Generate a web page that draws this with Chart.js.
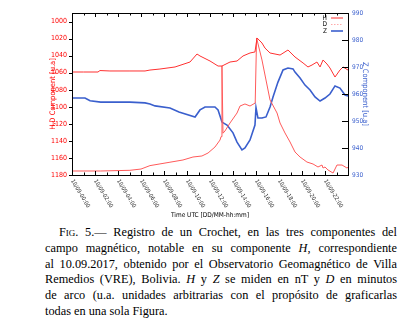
<!DOCTYPE html>
<html>
<head>
<meta charset="utf-8">
<script src="https://cdn.jsdelivr.net/npm/chart.js@4.4.0/dist/chart.umd.min.js"></script>
<style>
  body { margin: 0; background: #fff; width: 415px; height: 326px; overflow: hidden; }
  #wrap { position: absolute; left: 0; top: 0; width: 415px; height: 222px; }
  #caption {
    position: absolute; left: 45px; top: 225px; width: 352px;
    font-family: 'Liberation Serif', 'DejaVu Serif', serif;
    font-size: 12.3px; line-height: 15.8px; color: #000;
  }
  #caption div { text-align: justify; text-align-last: justify; }
  #caption div.first { padding-left: 14px; }
  #caption div.last { text-align-last: left; }
  .sc { font-variant: small-caps; }
</style>
</head>
<body>
<div id="wrap"><canvas id="crochetChart" width="415" height="222"></canvas></div>
<div id="caption">
  <div class="first"><span class="sc">Fig</span>. 5.— Registro de un Crochet, en las tres componentes del</div>
  <div>campo magnético, notable en su componente <i>H</i>, correspondiente</div>
  <div>al 10.09.2017, obtenido por el Observatorio Geomagnético de Villa</div>
  <div>Remedios (VRE), Bolivia. <i>H</i> y <i>Z</i> se miden en nT y <i>D</i> en minutos</div>
  <div>de arco (u.a. unidades arbitrarias con el propósito de graficarlas</div>
  <div class="last">todas en una sola Figura.</div>
</div>
<script>
// hours UTC on 10/09/2017
const hTime = [0, 1.0, 2.26, 2.43, 3.3, 5.04, 6.35, 6.78, 7.65, 8.96, 10.26, 10.87, 11.13, 12.0, 12.7, 13.04, 13.74, 14.35, 14.87, 15.48, 15.91, 16.09, 16.52, 16.78, 17.22, 18.09, 18.78, 19.39, 20.09, 20.52, 20.87, 21.3, 21.57, 21.83, 22.17, 22.43, 22.87, 23.3, 23.57, 24.0];
const hVal = [1059.2, 1059.2, 1059.2, 1057.5, 1058, 1058, 1058, 1056.9, 1055.7, 1053.3, 1047.5, 1038.1, 1040.4, 1046.3, 1052.2, 1052.2, 1047.5, 1046.3, 1040.4, 1036.9, 1035.7, 1019.3, 1025.2, 1031.1, 1036.9, 1039.3, 1033.4, 1041.6, 1048.6, 1053.3, 1051.0, 1047.5, 1053.3, 1045.1, 1049.8, 1054.5, 1065.1, 1056.9, 1053.3, 1056.9];

const dTime = [0, 2.5, 5.04, 6.0, 6.78, 7.65, 8.52, 9.65, 10.52, 11.3, 11.83, 12.43, 12.87, 12.96, 13.04, 13.13, 13.3, 13.74, 14.35, 14.61, 15.04, 15.48, 15.93, 16.05, 16.52, 16.87, 17.22, 17.83, 18.09, 18.52, 18.96, 19.39, 19.83, 20.43, 20.96, 21.39, 21.74, 21.83, 22.0, 22.26, 22.7, 23.04, 23.48, 23.91, 24.0];
const dVal = [1175.3, 1175.3, 1174.5, 1173.0, 1169.0, 1167.0, 1165.0, 1162.4, 1158.9, 1157.7, 1154.2, 1147.2, 1139.0, 1135.0, 1052.0, 1131.0, 1128.4, 1119.0, 1107.3, 1099.1, 1096.7, 1099.1, 1095.6, 1019.3, 1045.1, 1068.6, 1092.0, 1107.3, 1119.0, 1130.7, 1141.3, 1153.0, 1158.9, 1164.8, 1167.1, 1170.6, 1168.3, 1171.8, 1170.6, 1174.1, 1177.7, 1168.3, 1168.3, 1171.8, 1171.0];

const zTime = [0, 1.13, 1.57, 2.5, 4.0, 5.04, 6.35, 6.78, 7.22, 8.52, 9.3, 10.7, 11.13, 11.57, 12.43, 12.7, 13.04, 13.48, 14.0, 14.35, 14.78, 15.04, 15.48, 15.91, 16.0, 16.17, 16.52, 16.87, 17.22, 17.48, 17.91, 18.35, 18.78, 19.22, 19.39, 19.83, 20.26, 20.7, 21.13, 21.57, 22.0, 22.43, 22.87, 23.3, 23.74, 24.0];
const zVal = [958.5, 958.5, 957.5, 957.0, 957.0, 957.0, 956.7, 956.3, 955.6, 954.8, 953.3, 951.5, 954.1, 955.2, 955.2, 954.1, 949.6, 948.5, 945.6, 942.2, 939.3, 940.0, 943.0, 948.5, 955.0, 951.1, 951.1, 951.5, 955.2, 958.9, 964.4, 968.9, 969.6, 969.3, 968.1, 965.9, 963.3, 961.5, 958.9, 957.4, 958.5, 960.0, 963.0, 962.2, 959.6, 959.3];

const hdTicks = [1000, 1020, 1040, 1060, 1080, 1100, 1120, 1140, 1160, 1180];
const zTicks = [930, 940, 950, 960, 970, 980, 990];
const xTickHours = [0, 2, 4, 6, 8, 10, 12, 14, 16, 18, 20, 22];
const xTickLabels = ['10/09-00:00', '10/09-02:00', '10/09-04:00', '10/09-06:00', '10/09-08:00', '10/09-10:00',
  '10/09-12:00', '10/09-14:00', '10/09-16:00', '10/09-18:00', '10/09-20:00', '10/09-22:00'];

const narrow = "'Liberation Sans Narrow', 'DejaVu Sans Condensed', 'Liberation Sans', sans-serif";

function pts(t, v) {
  return t.map((x, i) => ({ x: x, y: v[i] }));
}

// box, inward ticks, rotated time labels and key, gnuplot style
const gnuplotFrame = {
  id: 'gnuplotFrame',
  afterDraw(chart) {
    const { ctx, chartArea: a, scales } = chart;
    ctx.save();
    ctx.strokeStyle = '#000';
    ctx.lineWidth = 1;
    ctx.strokeRect(a.left + 0.5, a.top + 0.5, a.right - a.left, a.bottom - a.top);

    ctx.beginPath();
    for (let h = 0; h <= 24; h++) {
      const x = Math.round(scales.x.getPixelForValue(h)) + 0.5;
      const len = h % 2 === 0 ? 4 : 2.5;
      ctx.moveTo(x, a.top); ctx.lineTo(x, a.top + len);
      ctx.moveTo(x, a.bottom); ctx.lineTo(x, a.bottom - len);
    }
    hdTicks.forEach(v => {
      const y = Math.round(scales.y.getPixelForValue(v)) + 0.5;
      ctx.moveTo(a.left - 3, y); ctx.lineTo(a.left, y);
    });
    zTicks.forEach(v => {
      const y = Math.round(scales.y1.getPixelForValue(v)) + 0.5;
      ctx.moveTo(a.right, y); ctx.lineTo(a.right - 6, y);
    });
    ctx.stroke();

    ctx.fillStyle = '#333';
    ctx.font = '5.8px ' + narrow;
    ctx.textAlign = 'left';
    ctx.textBaseline = 'middle';
    xTickHours.forEach((h, i) => {
      const x = scales.x.getPixelForValue(h);
      ctx.save();
      ctx.translate(x, a.bottom + 5);
      ctx.rotate(59 * Math.PI / 180);
      ctx.fillText(xTickLabels[i], 0, 0);
      ctx.restore();
    });

    // key: D is drawn dotted and paler there
    const keyColor = ['#ff3030', '#ffaaaa', '#3a5fcd'];
    const keyDash = [[], [1.5, 1.5], []];
    ctx.font = '6.5px ' + narrow;
    ctx.textAlign = 'right';
    chart.data.datasets.forEach((ds, i) => {
      const y = a.top + 5 + i * 6.5;
      ctx.fillStyle = '#000';
      ctx.fillText(ds.label, a.right - 21, y);
      ctx.strokeStyle = keyColor[i];
      ctx.lineWidth = ds.borderWidth;
      ctx.setLineDash(keyDash[i]);
      ctx.beginPath();
      ctx.moveTo(a.right - 17, y);
      ctx.lineTo(a.right - 5, y);
      ctx.stroke();
    });
    ctx.restore();
  }
};

new Chart(document.getElementById('crochetChart').getContext('2d'), {
  type: 'line',
  data: {
    datasets: [
      { label: 'H', data: pts(hTime, hVal), yAxisID: 'y', borderColor: '#ff3030', borderWidth: 1, pointRadius: 0 },
      { label: 'D', data: pts(dTime, dVal), yAxisID: 'y', borderColor: '#ff5a5a', borderWidth: 1, pointRadius: 0 },
      { label: 'Z', data: pts(zTime, zVal), yAxisID: 'y1', borderColor: '#3a5fcd', borderWidth: 1.6, pointRadius: 0 }
    ]
  },
  plugins: [gnuplotFrame],
  options: {
    responsive: false,
    animation: false,
    layout: { padding: { top: 13, left: 0, right: 0, bottom: 0 } },
    plugins: { legend: { display: false }, tooltip: { enabled: false } },
    scales: {
      x: {
        type: 'linear', min: 0, max: 24,
        ticks: { display: false },
        grid: { display: false, drawTicks: false },
        border: { display: false },
        title: { display: true, text: 'Time UTC [DD/MM-hh:mm]', color: '#000', font: { family: narrow, size: 6.5 }, padding: { top: 0, bottom: 3 } },
        afterFit(s) { s.height = 47; }
      },
      y: {
        position: 'left', reverse: true, min: 990, max: 1180,
        afterBuildTicks(s) { s.ticks = hdTicks.map(v => ({ value: v })); },
        ticks: { color: '#ff0000', padding: 5, font: { family: narrow, size: 7 }, callback: v => String(v) },
        grid: { display: false, drawTicks: false },
        border: { display: false },
        title: { display: true, text: 'H,D Component [u.a]', color: '#ff0000', font: { family: narrow, size: 7.5 }, padding: { top: 49, bottom: 0 } },
        afterFit(s) { s.width = 72; }
      },
      y1: {
        position: 'right', min: 930, max: 990,
        afterBuildTicks(s) { s.ticks = zTicks.map(v => ({ value: v })); },
        ticks: { color: '#3a5fcd', padding: 4, font: { family: narrow, size: 6.5 }, callback: v => String(v) },
        grid: { display: false, drawTicks: false },
        border: { display: false },
        title: { display: true, text: 'Z Component [u.a]', color: '#3a5fcd', font: { family: narrow, size: 7.5 }, padding: { top: 46, bottom: 0 } },
        afterFit(s) { s.width = 67; }
      }
    }
  }
});
</script>
</body>
</html>
